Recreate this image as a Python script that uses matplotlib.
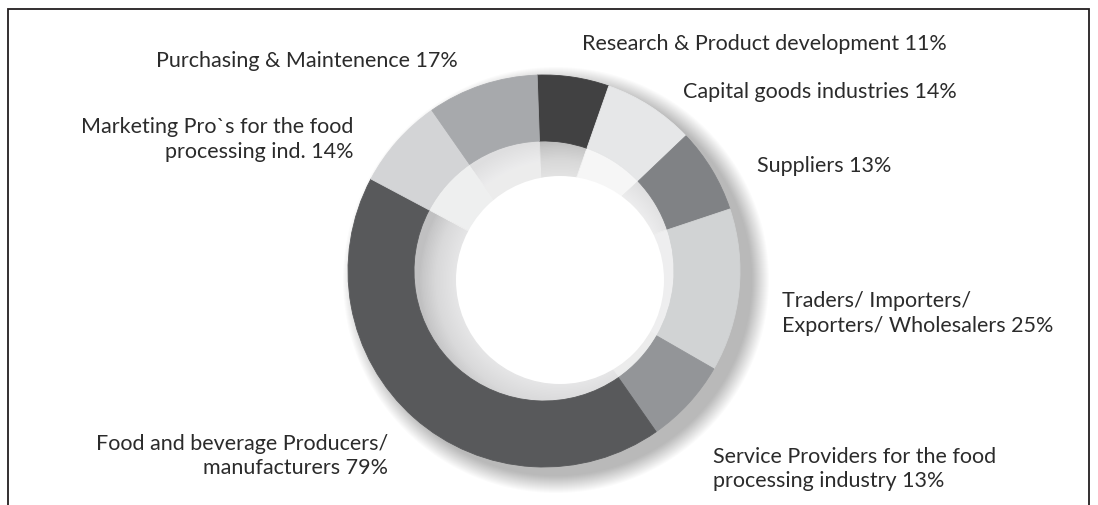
import matplotlib
matplotlib.use("Agg")
import matplotlib.pyplot as plt
import matplotlib.colors as mcolors
from matplotlib.patches import Circle

# ---------------- data ----------------
categories = [
    ["Research & Product development"],
    ["Capital goods industries"],
    ["Suppliers"],
    ["Traders/ Importers/", "Exporters/ Wholesalers"],
    ["Service Providers for the food", "processing industry"],
    ["Food and beverage Producers/", "manufacturers"],
    ["Marketing Pro`s for the food", "processing ind."],
    ["Purchasing & Maintenence"],
]
values = [11, 14, 13, 25, 13, 79, 14, 17]
colors = ["#414142", "#e6e7e8", "#808285", "#d1d3d4",
          "#939598", "#58595b", "#d3d4d6", "#a7a9ac"]

# ---------------- layout ----------------
W, H = 1098, 506
plt.rcParams["font.family"] = ["Lato", "DejaVu Sans"]
fig = plt.figure(figsize=(W / 100, H / 100), dpi=100)
ax = fig.add_axes([0, 0, 1, 1])

cx, cy = 544, H - 272
R, Rin = 196, 130
hx, hy, hr = 560, H - 281, 104

# soft drop shadow (lower right)
n_sh = 18
for k in range(n_sh):
    ax.add_patch(Circle((cx + 12, cy - 9), R + 17 - k, fc="#000000",
                        ec="none", alpha=0.016, zorder=1))

# top surface of the ring
wedges, _ = ax.pie(values, colors=colors, startangle=92, counterclock=False,
                   radius=R, center=(cx, cy),
                   wedgeprops=dict(width=R - Rin, linewidth=0.6))
for w, c in zip(wedges, colors):
    w.set_edgecolor(c)
    w.set_zorder(3)

# inner wall (lighter tone of each segment)
white = mcolors.to_rgb("white")
wall_colors = [tuple(0.38 * a + 0.62 * b for a, b in zip(mcolors.to_rgb(c), white))
               for c in colors]
wall, _ = ax.pie(values, colors=wall_colors, startangle=92, counterclock=False,
                 radius=Rin, center=(cx, cy), wedgeprops=dict(linewidth=0.6))
for w, c in zip(wall, wall_colors):
    w.set_edgecolor(c)
    w.set_zorder(2)

clip = Circle((cx, cy), Rin, transform=ax.transData)
m = 24
for k in range(m):
    c = Circle((hx, hy), hr + 36 - 36 * k / m, fc="white", ec="none",
               alpha=0.05, zorder=2.5)
    ax.add_patch(c)
    c.set_clip_path(clip)

ax.add_patch(Circle((hx, hy), hr, fc="white", ec="none", zorder=2.8))

# frame (open at the bottom)
ax.plot([7.5, 7.5, 1089, 1089], [0, H - 10, H - 10, 0], color="#231f20",
        lw=1.3, solid_joinstyle="miter", zorder=5)

# labels: (x, first baseline, alignment)
label_pos = [
    (582, 50, "left"),
    (683, 98, "left"),
    (757, 172, "left"),
    (782, 307, "left"),
    (713, 463, "left"),
    (388, 450, "right"),
    (353, 133, "right"),
    (458, 67, "right"),
]
line_gap = 24.5
txt_color = "#2b2b2b"
for lines, v, (x, yb, ha) in zip(categories, values, label_pos):
    lines = list(lines)
    lines[-1] = f"{lines[-1]} {v}%"
    for i, s in enumerate(lines):
        ax.text(x, H - (yb + i * line_gap), s, ha=ha, va="baseline",
                fontsize=15.5, color=txt_color, zorder=6)

ax.set_xlim(0, W)
ax.set_ylim(0, H)
ax.set_aspect("equal")
ax.axis("off")
fig.savefig("out.png", dpi=100, facecolor="white")
